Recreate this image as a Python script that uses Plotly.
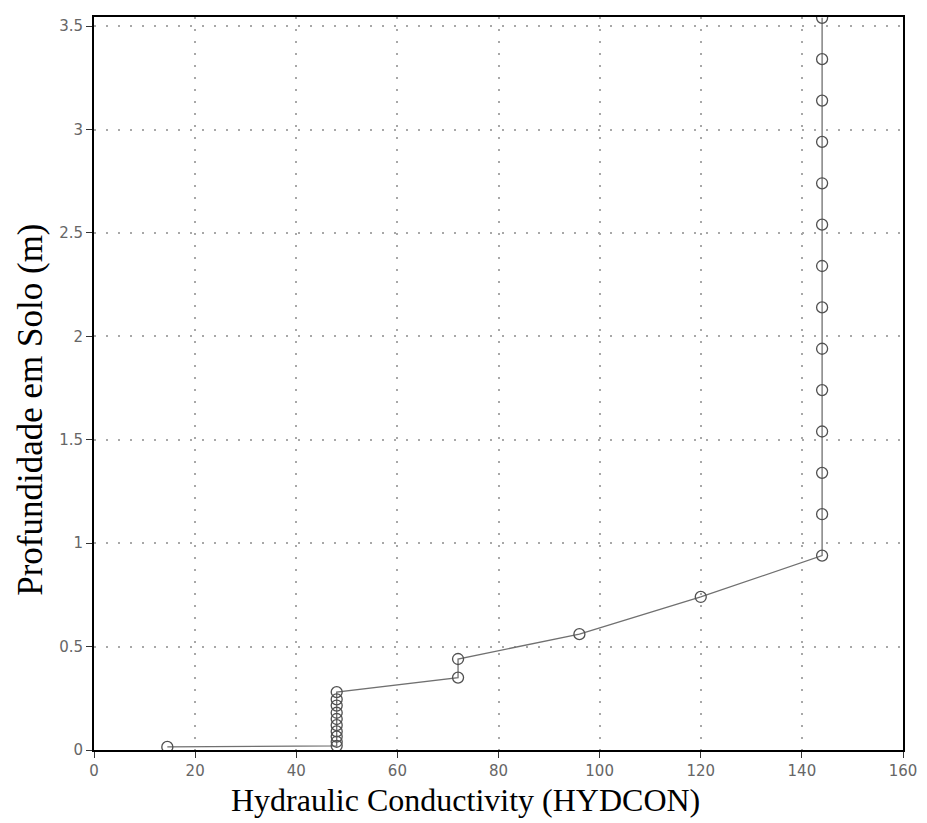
import plotly.graph_objects as go

# hydraulic conductivity profile
hydcon = [14.5, 48, 48, 48, 48, 48, 48, 48, 48, 48, 48,
          72, 72, 96, 120, 144,
          144, 144, 144, 144, 144, 144, 144, 144, 144, 144, 144, 144, 144]
depth = [0.015, 0.02, 0.04, 0.065, 0.09, 0.12, 0.15, 0.18, 0.215, 0.245, 0.28,
         0.35, 0.44, 0.56, 0.74, 0.94,
         1.14, 1.34, 1.54, 1.74, 1.94, 2.14, 2.34, 2.54, 2.74, 2.94, 3.14, 3.34, 3.54]

x_ticks = [0, 20, 40, 60, 80, 100, 120, 140, 160]
y_ticks = [0, 0.5, 1, 1.5, 2, 2.5, 3, 3.5]

fig = go.Figure()
fig.add_trace(go.Scatter(
    x=hydcon, y=depth, mode='lines+markers',
    line=dict(color='#707070', width=1.3),
    marker=dict(symbol='circle-open', size=11, color='#505050', line=dict(width=1.3)),
    showlegend=False,
))

axis_common = dict(
    showline=True, linecolor='black', linewidth=2, mirror=True,
    showgrid=True, gridcolor='#a8a8a8', griddash='2px,10px', gridwidth=1.5,
    zeroline=False, ticks='outside', ticklen=6, tickcolor='#333',
    tickfont=dict(family='DejaVu Sans', size=15, color='#666'),
)

fig.update_xaxes(range=[0, 160], tickvals=x_ticks, **axis_common)
fig.update_yaxes(range=[0, 3.544], tickvals=y_ticks, **axis_common)

# axis titles placed as annotations (they sit a bit off-centre in the original)
fig.add_annotation(text='Hydraulic Conductivity (HYDCON)', xref='paper', yref='paper',
                   x=0.4586, y=-0.068, xanchor='center', yanchor='middle', showarrow=False,
                   font=dict(family='Liberation Serif', size=32, color='black'))
fig.add_annotation(text='Profundidade em Solo (m)', xref='paper', yref='paper',
                   x=-0.078, y=0.464, xanchor='center', yanchor='middle', showarrow=False,
                   textangle=-90,
                   font=dict(family='Liberation Serif', size=35, color='black'))

fig.update_layout(
    width=919, height=815,
    margin=dict(l=86, r=24, t=7, b=73),
    paper_bgcolor='white', plot_bgcolor='white',
)

fig.write_html("out.html")
